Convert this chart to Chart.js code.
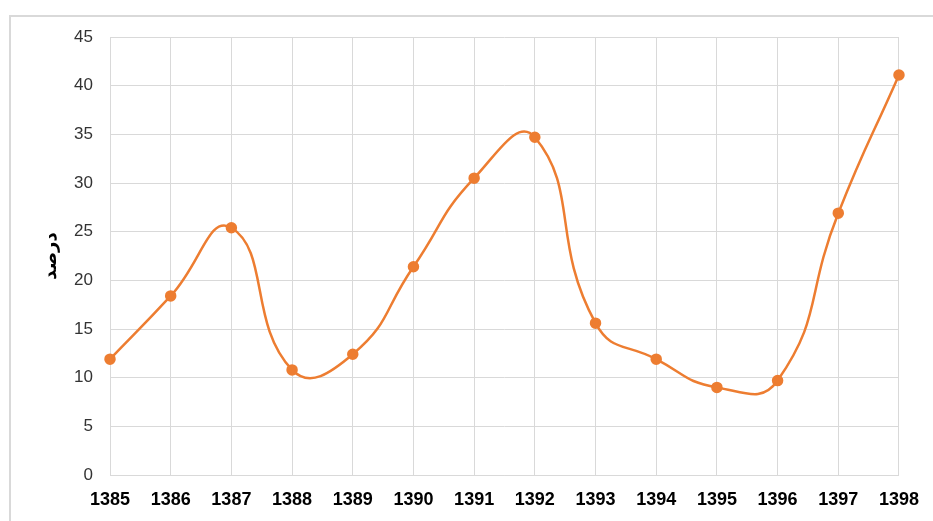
<!DOCTYPE html>
<html>
<head>
<meta charset="utf-8">
<script src="https://cdn.jsdelivr.net/npm/chart.js@4"></script>
<style>
html,body{margin:0;padding:0;background:#fff;}
#wrap{position:relative;width:933px;height:521px;overflow:hidden;}
#frame{position:absolute;left:9px;top:15px;width:1000px;height:600px;border:2px solid #d9d9d9;box-sizing:border-box;}
canvas{position:absolute;left:0;top:0;}
</style>
</head>
<body>
<div id="wrap">
<div id="frame"></div>
<canvas id="c" width="933" height="521"></canvas>
</div>
<script>
const years = ['1385','1386','1387','1388','1389','1390','1391','1392','1393','1394','1395','1396','1397','1398'];
const percentValues = [11.9, 18.4, 25.4, 10.8, 12.4, 21.4, 30.5, 34.7, 15.6, 11.9, 9.0, 9.7, 26.9, 41.1];
const yAxisTitle = 'درصد';

new Chart(document.getElementById('c'), {
  type: 'line',
  data: {
    labels: years,
    datasets: [{
      data: percentValues,
      borderColor: '#ED7D31',
      backgroundColor: '#ED7D31',
      pointBackgroundColor: '#ED7D31',
      pointBorderColor: '#ED7D31',
      borderWidth: 2.5,
      pointRadius: 4.5,
      tension: 0.5,
      fill: false
    }]
  },
  options: {
    responsive: false,
    animation: false,
    devicePixelRatio: 1,
    layout: { padding: { top: 37, right: 31, bottom: 0, left: 0 } },
    plugins: { legend: { display: false }, tooltip: { enabled: false } },
    scales: {
      x: {
        offset: false,
        grid: { color: '#d9d9d9', lineWidth: 1, drawTicks: false },
        border: { color: '#d9d9d9', width: 1 },
        ticks: { padding: 14, color: '#000', font: { family: 'Liberation Sans', size: 18, weight: 'bold' }, maxRotation: 0 },
        afterFit: s => { s.height = 46; }
      },
      y: {
        min: 0, max: 45,
        ticks: { stepSize: 5, padding: 17, color: '#333', font: { family: 'Liberation Sans', size: 17 } },
        grid: { color: '#d9d9d9', lineWidth: 1, drawTicks: false },
        border: { display: false },
        title: { display: true, text: yAxisTitle, color: '#000', font: { family: 'DejaVu Sans', size: 18, weight: 'bold' }, padding: { top: 41, bottom: 0 } },
        afterFit: s => { s.width = 110; }
      }
    }
  }
});
</script>
</body>
</html>
